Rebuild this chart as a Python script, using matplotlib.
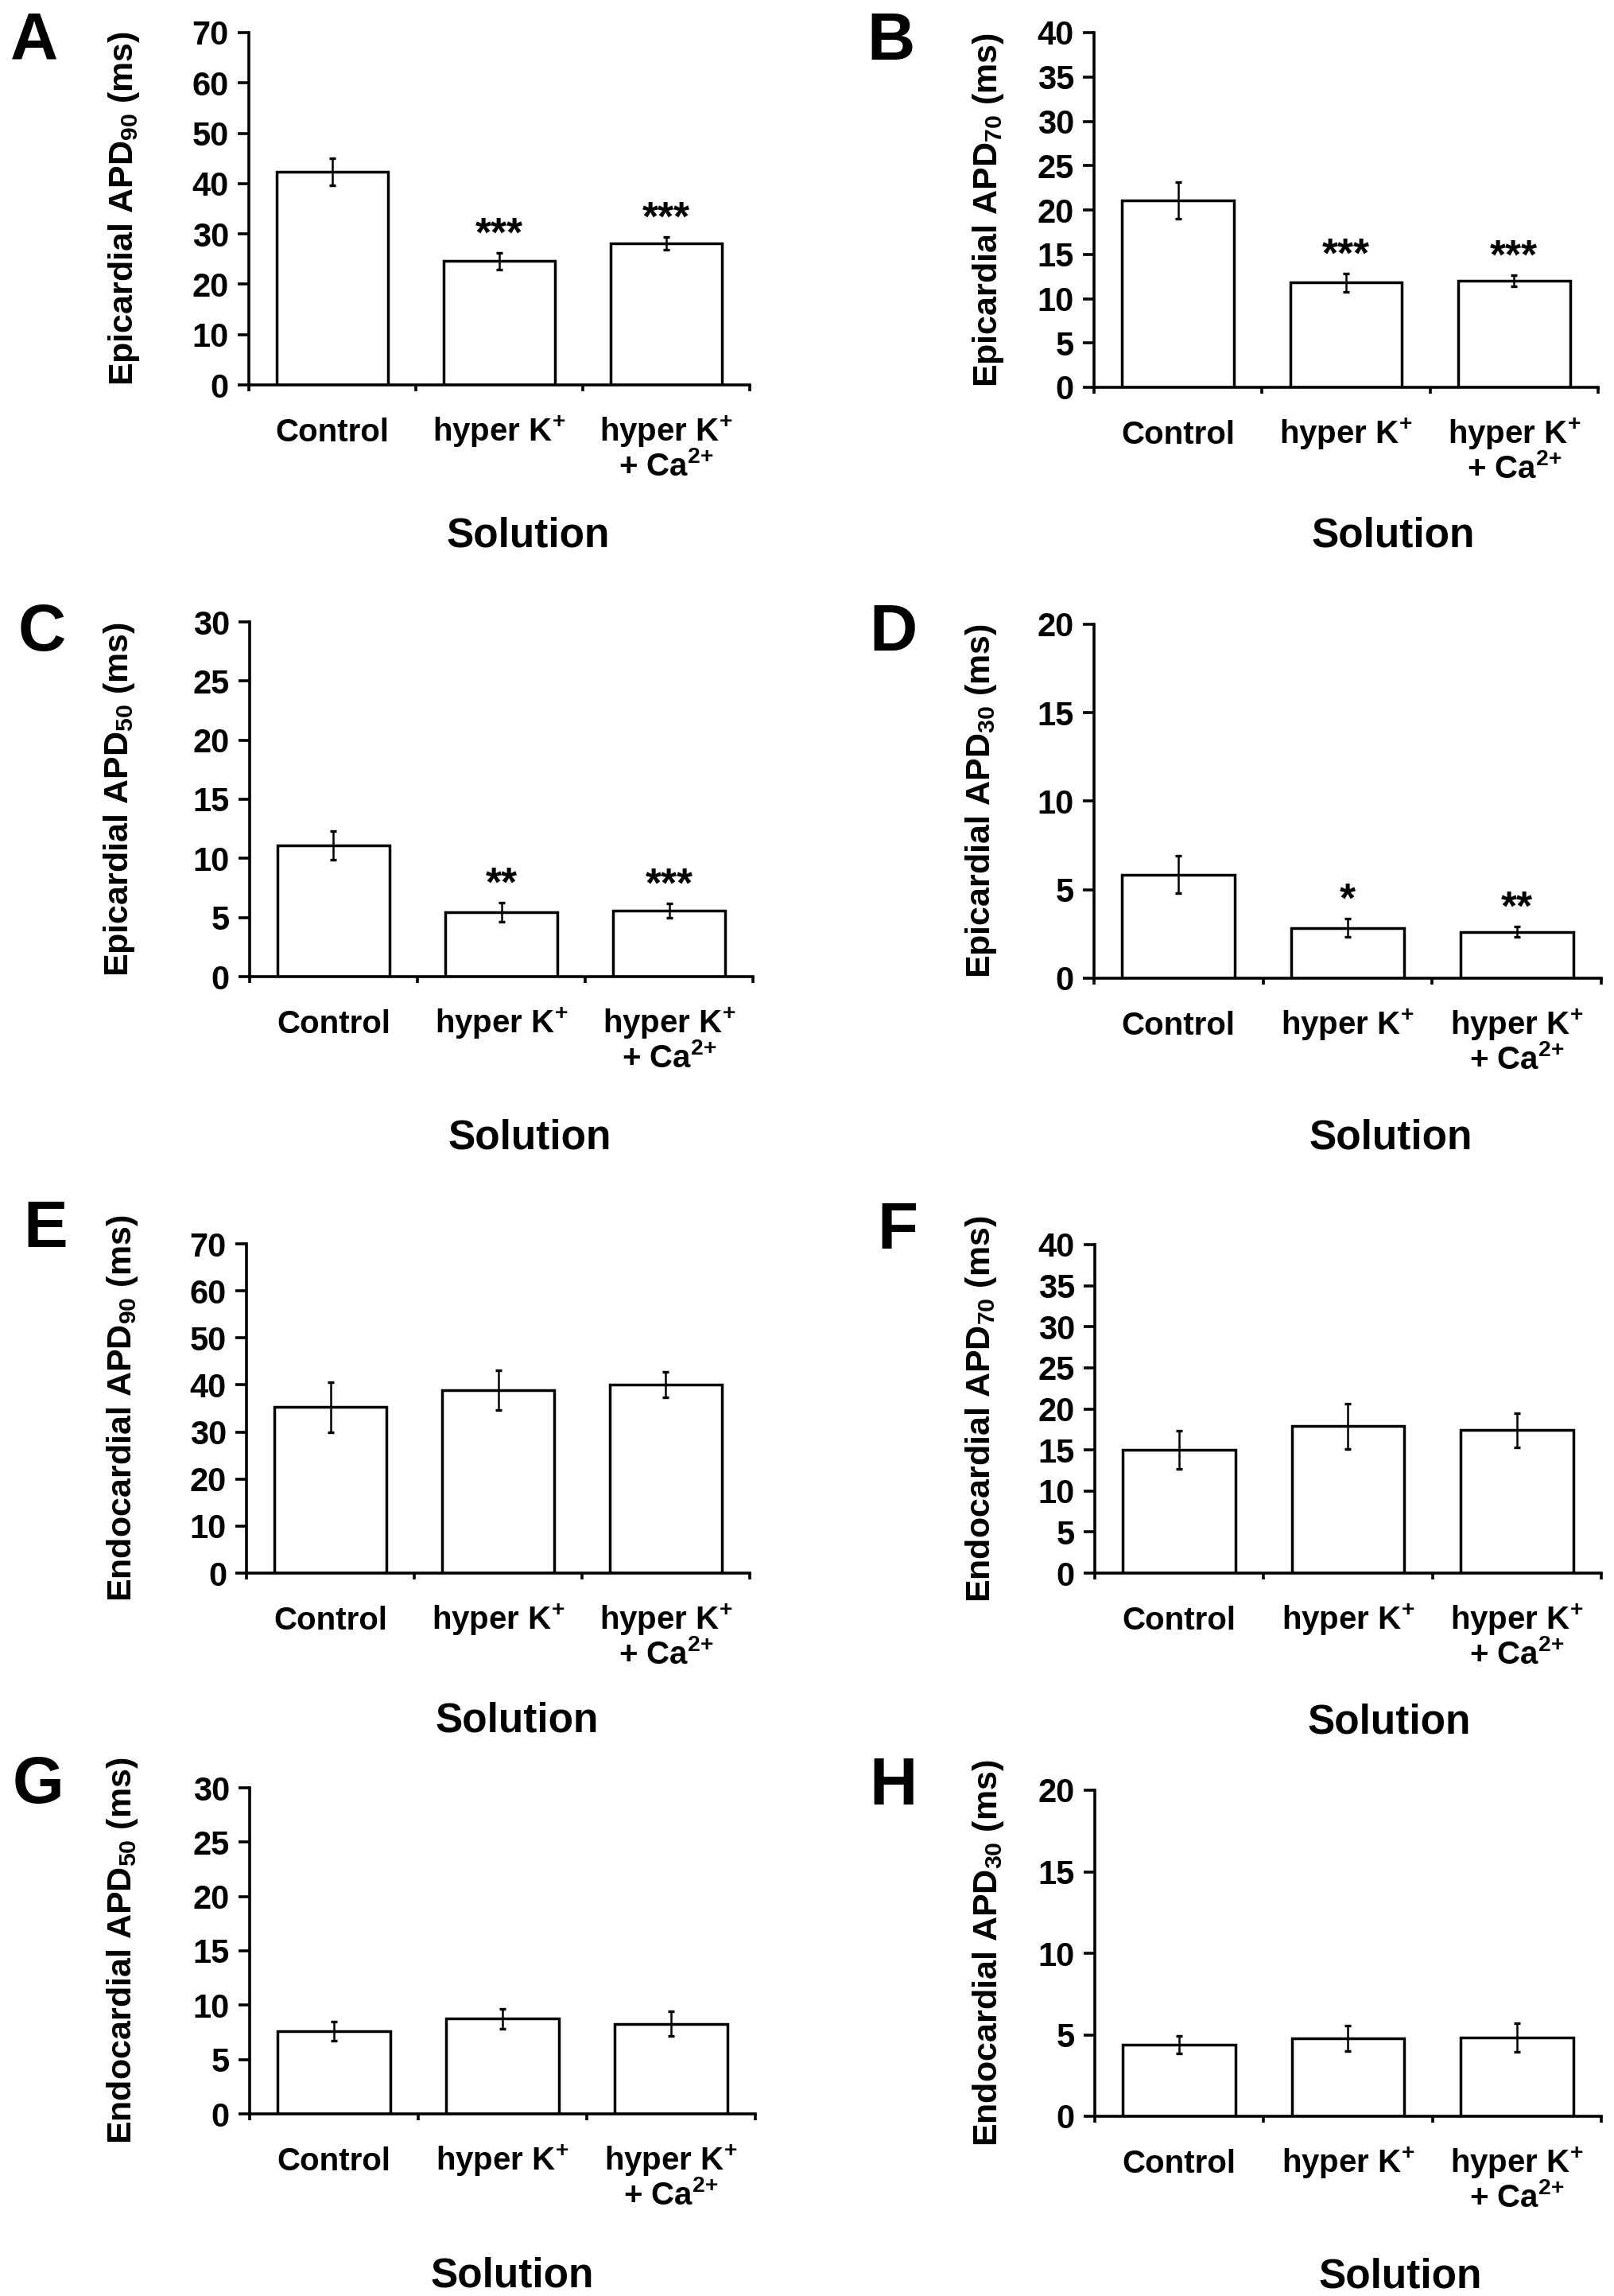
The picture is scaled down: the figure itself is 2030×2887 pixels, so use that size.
import matplotlib
matplotlib.use("Agg")
import matplotlib.pyplot as plt
import numpy as np

# values (means and error bar half-lengths)
cat_line1 = ["Control", "hyper K$^{+}$", "hyper K$^{+}$"]
cat_line2 = ["", "", "+ Ca$^{2{+}}$"]

letters = ["A", "B", "C", "D", "E", "F", "G", "H"]
ylabels = ["Epicardial APD$_{90}$ (ms)", "Epicardial APD$_{70}$ (ms)",
           "Epicardial APD$_{50}$ (ms)", "Epicardial APD$_{30}$ (ms)",
           "Endocardial APD$_{90}$ (ms)", "Endocardial APD$_{70}$ (ms)",
           "Endocardial APD$_{50}$ (ms)", "Endocardial APD$_{30}$ (ms)"]
ymax = [70, 40, 30, 20, 70, 40, 30, 20]
ystep = [10, 5, 5, 5, 10, 5, 5, 5]

means = [[42.3, 24.6, 28.1],
         [21.1, 11.8, 12.0],
         [11.1, 5.45, 5.6],
         [5.85, 2.85, 2.62],
         [35.3, 38.9, 40.0],
         [15.0, 17.9, 17.4],
         [7.6, 8.75, 8.3],
         [4.4, 4.78, 4.85]]
errs = [[2.7, 1.7, 1.3],
        [2.05, 1.0, 0.65],
        [1.2, 0.8, 0.6],
        [1.05, 0.52, 0.3],
        [5.3, 4.3, 2.7],
        [2.3, 2.75, 2.1],
        [0.9, 0.9, 1.15],
        [0.55, 0.78, 0.88]]
stars = [["", "***", "***"],
         ["", "***", "***"],
         ["", "**", "***"],
         ["", "*", "**"],
         ["", "", ""],
         ["", "", ""],
         ["", "", ""],
         ["", "", ""]]

# layout in reference pixels: axes left, right, top, bottom (zero line)
W, H = 2031, 2887
axes_px = [(313, 943, 41, 484), (1376, 2010, 41, 487),
           (314, 947, 782, 1228), (1376, 2014, 785, 1230),
           (310, 943, 1564, 1978), (1377, 2014, 1565, 1978),
           (314, 950, 2248, 2658), (1377, 2014, 2251, 2661)]
ylab_right_px = [178, 1265, 172, 1256, 176, 1256, 176, 1265]
letter_px = [(13, 14), (1090, 14), (23, 757), (1093, 757),
             (29, 1507), (1103, 1509), (16, 2206), (1093, 2208)]
solution_px = [(664, 674), (1752, 674), (666, 1431), (1749, 1431),
               (650, 2164), (1747, 2166), (644, 2862), (1761, 2863)]

plt.rcParams["font.family"] = ["Liberation Sans", "DejaVu Sans"]
plt.rcParams["font.weight"] = "bold"
plt.rcParams["mathtext.default"] = "regular"

fig = plt.figure(figsize=(W / 100, H / 100), dpi=100)
fig.patch.set_facecolor("white")

x = np.arange(3)

for i in range(8):
    l, r, t, b = axes_px[i]
    ax = fig.add_axes([l / W, 1 - b / H, (r - l) / W, (b - t) / H])
    ax.bar(x, means[i], width=0.667, color="white", edgecolor="black",
           linewidth=2.5, zorder=2)
    ax.errorbar(x, means[i], yerr=errs[i], fmt="none", ecolor="black",
                elinewidth=1.8, capsize=3, capthick=2.4, zorder=3)
    for j in range(3):
        if stars[i][j]:
            ax.annotate(stars[i][j], xy=(x[j], means[i][j] + errs[i][j]),
                        xytext=(0, 6), textcoords="offset points",
                        ha="center", va="baseline", fontsize=37,
                        fontweight="bold")
        ax.annotate(cat_line1[j], xy=(x[j], 0),
                    xycoords=("data", "axes fraction"),
                    xytext=(0, -51), textcoords="offset points",
                    ha="center", va="baseline", fontsize=29,
                    fontweight="bold", annotation_clip=False)
        if cat_line2[j]:
            ax.annotate(cat_line2[j], xy=(x[j], 0),
                        xycoords=("data", "axes fraction"),
                        xytext=(0, -82), textcoords="offset points",
                        ha="center", va="baseline", fontsize=29,
                        fontweight="bold", annotation_clip=False)

    ax.set_xlim(-0.5, 2.5)
    ax.set_ylim(0, ymax[i])
    ax.set_yticks(np.arange(0, ymax[i] + 1, ystep[i]))
    ax.set_xticks([-0.5, 0.5, 1.5, 2.5])
    ax.set_xticklabels([])
    for s in ["top", "right"]:
        ax.spines[s].set_visible(False)
    for s in ["left", "bottom"]:
        ax.spines[s].set_linewidth(2.6)
    ax.tick_params(axis="y", direction="out", length=10, width=2.6,
                   pad=8, labelsize=30)
    ax.tick_params(axis="x", direction="out", length=6, width=2.6)
    for lab in ax.get_yticklabels():
        lab.set_fontweight("bold")

    ax.set_ylabel(ylabels[i], fontsize=31, fontweight="bold")
    ax.yaxis.set_label_coords((ylab_right_px[i] - l) / (r - l), 0.5)

    lx, ly = letter_px[i]
    fig.text(lx / W, 1 - ly / H, letters[i], fontsize=60,
             fontweight="bold", ha="left", va="top")
    sx, sy = solution_px[i]
    fig.text(sx / W, 1 - sy / H, "Solution", fontsize=37,
             fontweight="bold", ha="center", va="center")

fig.savefig("out.png", dpi=100, facecolor="white")
